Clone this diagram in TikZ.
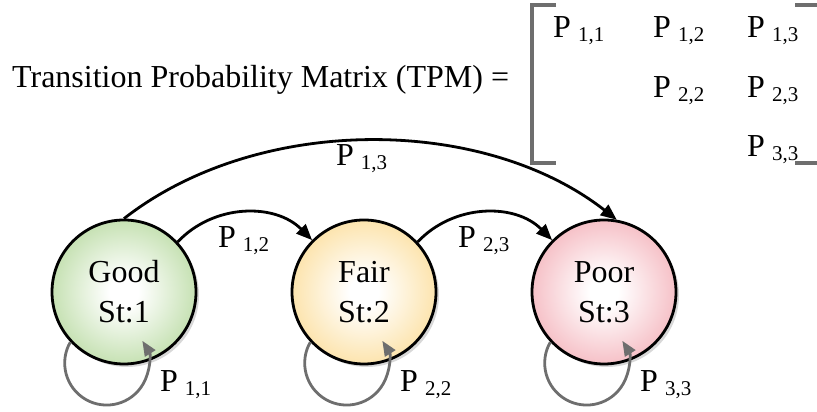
\documentclass[tikz,border=0pt]{standalone}
\usepackage{fontspec}
\setmainfont{Liberation Serif}
\usetikzlibrary{arrows.meta,shadows}

\definecolor{goodgreen}{RGB}{150,200,115}
\definecolor{fairyellow}{RGB}{250,205,105}
\definecolor{poorpink}{RGB}{238,140,152}
\definecolor{loopgrey}{RGB}{110,110,110}

\pgfdeclareradialshading{goodball}{\pgfpointorigin}{color(0bp)=(white); color(5bp)=(white); color(42bp)=(goodgreen); color(50bp)=(goodgreen)}
\pgfdeclareradialshading{fairball}{\pgfpointorigin}{color(0bp)=(white); color(5bp)=(white); color(42bp)=(fairyellow); color(50bp)=(fairyellow)}
\pgfdeclareradialshading{poorball}{\pgfpointorigin}{color(0bp)=(white); color(5bp)=(white); color(42bp)=(poorpink); color(50bp)=(poorpink)}

\newcommand{\prob}[1]{P\hspace{7pt}\raisebox{-4pt}{\fontsize{21}{21}\selectfont #1}}

\begin{document}
\begin{tikzpicture}[x=1pt,y=1pt,
  state/.style={circle,draw,line width=2.8pt,minimum size=144pt,inner sep=0pt,align=center,
    font=\fontsize{32}{40}\selectfont,
    drop shadow={shadow xshift=3pt,shadow yshift=-3pt,fill=black!30,opacity=.5}},
  label/.style={anchor=base west,inner sep=0pt,font=\fontsize{32}{36}\selectfont},
  trans/.style={line width=2.8pt,-{Triangle[length=16pt,width=13pt]}},
  selfloop/.style={line width=2.8pt,loopgrey,-{Triangle[length=15pt,width=12pt]}},
  bracket/.style={line width=3.2pt,loopgrey}
]
  \useasboundingbox (0,0) rectangle (817,412);

  \node[label] (tpm) at (12,324) {Transition Probability Matrix (TPM) =};
  \node[label] (m11) at (553,374) {\prob{1,1}};
  \node[label] (m12) at (653,374) {\prob{1,2}};
  \node[label] (m13) at (747,374) {\prob{1,3}};
  \node[label] (m22) at (653,314) {\prob{2,2}};
  \node[label] (m23) at (747,314) {\prob{2,3}};
  \node[label] (m33) at (747,255) {\prob{3,3}};
  \draw[bracket] (556,407) -| (532,249) -- (556,249);
  \draw[bracket] (795,407) -| (819,249) -- (795,249);

  \node[state,shading=goodball] (good) at (124,120) {Good\\St:1};
  \node[state,shading=fairball] (fair) at (364,120) {Fair\\St:2};
  \node[state,shading=poorball] (poor) at (604,120) {Poor\\St:3};

  \draw[trans] (good.43) to[bend left=46] (fair.135);
  \draw[trans] (fair.43) to[bend left=46] (poor.135);
  \draw[trans] (good.90) to[out=38,in=142,looseness=.88] (poor.80);
  \node[label] (p12) at (218,164) {\prob{1,2}};
  \node[label] (p23) at (458,164) {\prob{2,3}};
  \node[label] (p13) at (336,246) {\prob{1,3}};

  \draw[selfloop] (good.223) arc[start angle=150,end angle=392,radius=42];
  \draw[selfloop] (fair.223) arc[start angle=150,end angle=392,radius=42];
  \draw[selfloop] (poor.223) arc[start angle=150,end angle=392,radius=42];
  \node[label] (p11) at (160,20) {\prob{1,1}};
  \node[label] (p22) at (400,20) {\prob{2,2}};
  \node[label] (p33) at (640,20) {\prob{3,3}};
\end{tikzpicture}
\end{document}
